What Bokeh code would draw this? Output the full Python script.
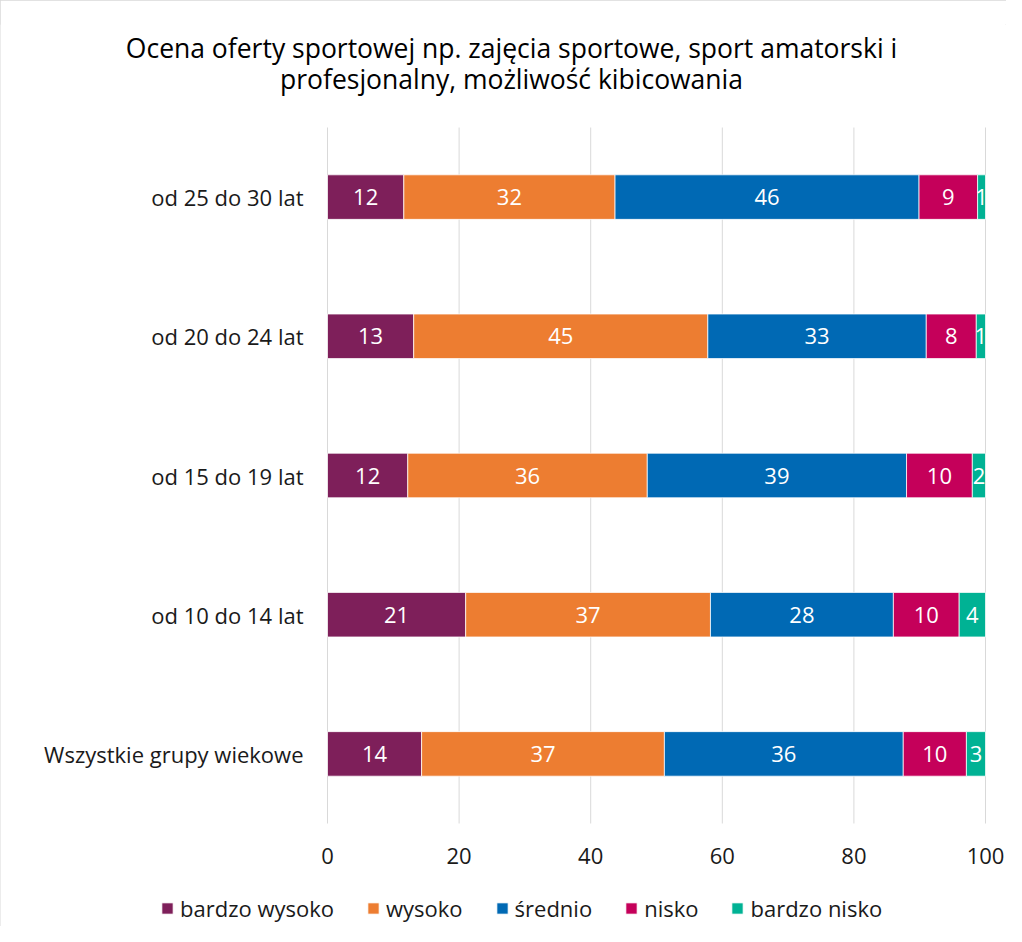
from bokeh.plotting import figure
from bokeh.models import ColumnDataSource, LabelSet, Label, Legend, LegendItem, FactorRange
from bokeh.embed import file_html
from bokeh.resources import INLINE
from bokeh.core.properties import value

categories = ["Wszystkie grupy wiekowe", "od 10 do 14 lat", "od 15 do 19 lat", "od 20 do 24 lat", "od 25 do 30 lat"]
series = ["bardzo wysoko", "wysoko", "średnio", "nisko", "bardzo nisko"]
colors = ["#7E1F5A", "#ED7D31", "#0069B4", "#C5005A", "#00B294"]

bardzo_wysoko = [14.3, 21.0, 12.2, 13.1, 11.6]
wysoko = [36.9, 37.2, 36.4, 44.7, 32.1]
srednio = [36.3, 27.8, 39.4, 33.2, 46.2]
nisko = [9.6, 10.0, 10.0, 7.6, 8.9]
bardzo_nisko = [2.9, 4.0, 2.0, 1.4, 1.2]

title_lines = ["Ocena oferty sportowej np. zajęcia sportowe, sport amatorski i",
               "profesjonalny, możliwość kibicowania"]
x_ticks = [0, 20, 40, 60, 80, 100]

FONT = "Open Sans"
TXT = "#1a1a1a"

# ---- layout constants (canvas pixels) ----
W, H = 1006, 926
PLOT_L, PLOT_R = 327, 985          # x=0 and x=100
BAND_T, BAND_B = 127, 823          # top / bottom of category band
FRAME_T = 24
px_per_unit = (PLOT_R - PLOT_L) / 100.0
band_px = (BAND_B - BAND_T) / len(categories)
pad_units = (H - BAND_B) / band_px

cols = ["s0", "s1", "s2", "s3", "s4"]
vals = [bardzo_wysoko, wysoko, srednio, nisko, bardzo_nisko]
data = {"cat": categories}
for c, v in zip(cols, vals):
    data[c] = v
src = ColumnDataSource(data)

yr = FactorRange(*categories, range_padding=pad_units, range_padding_units="absolute")
p = figure(width=W, height=H, y_range=yr,
           x_range=(-PLOT_L / px_per_unit, 100 + (W - PLOT_R) / px_per_unit),
           x_axis_type=None, y_axis_type=None,
           output_backend="svg", toolbar_location=None,
           min_border_left=0, min_border_right=0, min_border_top=FRAME_T, min_border_bottom=0)
p.styles = {"outline": "1px solid #d9d9d9", "outline-offset": "-1px"}
p.outline_line_color = None
p.grid.visible = False

# vertical gridlines over the category band
n = len(categories)
p.segment(x0=x_ticks, x1=x_ticks, y0=[0] * len(x_ticks), y1=[n] * len(x_ticks),
          line_color="#d9d9d9", line_width=1)

renderers = p.hbar_stack(cols, y="cat", height=0.32, color=colors, source=src,
                         line_color="white", line_width=0.75)

# value labels
for i, (c, v) in enumerate(zip(cols, vals)):
    left = [sum(vals[k][j] for k in range(i)) for j in range(n)]
    mid = [l + vv / 2 for l, vv in zip(left, v)]
    lab = [str(int(round(vv))) for vv in v]
    ls = ColumnDataSource(dict(x=mid, y=categories, t=lab))
    p.add_layout(LabelSet(x="x", y="y", text="t", source=ls, text_align="center",
                          text_baseline="middle", text_color="white", text_font=value(FONT),
                          text_font_size="22px"))

# category labels (y axis)
cs = ColumnDataSource(dict(x=[PLOT_L - 24] * n, y=categories, t=categories))
p.add_layout(LabelSet(x="x", y="y", text="t", source=cs, x_units="screen",
                      text_align="right", text_baseline="middle", text_color=TXT,
                      text_font=value(FONT), text_font_size="22px"))

# x tick labels
ts = ColumnDataSource(dict(x=x_ticks, y=[H - 855] * len(x_ticks), t=[str(t) for t in x_ticks]))
p.add_layout(LabelSet(x="x", y="y", text="t", source=ts, y_units="screen",
                      text_align="center", text_baseline="middle", text_color=TXT,
                      text_font=value(FONT), text_font_size="22px"))

# title
for k, line in enumerate(title_lines):
    p.add_layout(Label(x=511, y=H - (47 + 31 * k), x_units="screen", y_units="screen",
                       text=line, text_align="center", text_baseline="middle", text_font=FONT,
                       text_font_size="26.5px", text_color="#000000"))

items = [LegendItem(label=s, renderers=[r]) for s, r in zip(series, renderers)]
legend = Legend(items=items, orientation="horizontal", location=(160, 3),
                label_text_font=FONT, label_text_font_size="22px", label_text_color=TXT,
                glyph_width=14, glyph_height=14, label_standoff=6, spacing=32,
                border_line_color=None, background_fill_alpha=0, padding=0, margin=0)
p.add_layout(legend, "center")

open("out.html", "w").write(file_html(p, INLINE))
